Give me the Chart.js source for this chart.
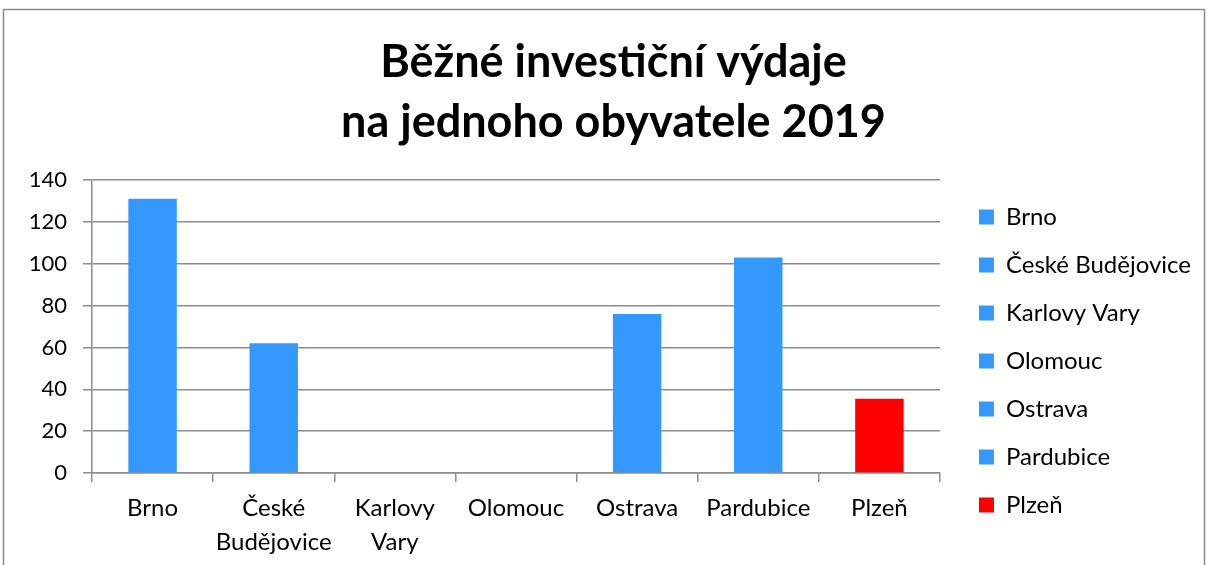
<!DOCTYPE html>
<html>
<head>
<meta charset="utf-8">
<script src="https://cdn.jsdelivr.net/npm/chart.js@4"></script>
<style>
  html, body { margin: 0; padding: 0; background: #fff; }
  #wrap { width: 1208px; height: 565px; }
</style>
</head>
<body>
<div id="wrap"><canvas id="graf"></canvas></div>
<script>
const mesta = ["Brno", ["České", "Budějovice"], ["Karlovy", "Vary"], "Olomouc", "Ostrava", "Pardubice", "Plzeň"];
const nazvyLegenda = ["Brno", "České Budějovice", "Karlovy Vary", "Olomouc", "Ostrava", "Pardubice", "Plzeň"];
const vydaje = [131, 62, 0, 0, 76, 103, 35.5];
const barvy = ["#3399ff", "#3399ff", "#3399ff", "#3399ff", "#3399ff", "#3399ff", "#ff0000"];
const nadpis = ["Běžné investiční výdaje", "na jednoho obyvatele 2019"];

const pismo = "Lato, 'Open Sans', sans-serif";
Chart.defaults.font.family = pismo;
Chart.defaults.color = "#000";

// sedy ramecek kolem celeho grafu + posun nadpisu trochu doprava
const ramecek = {
    id: "ramecek",
    afterLayout(chart) {
        if (chart.titleBlock) {
            chart.titleBlock.left += 13;
            chart.titleBlock.right += 13;
        }
    },
    beforeDraw(chart) {
        const c = chart.ctx;
        c.save();
        c.fillStyle = "#fff";
        c.fillRect(0, 0, chart.width, chart.height);
        c.strokeStyle = "#8a8a8a";
        c.lineWidth = 1.5;
        c.strokeRect(3.5, 9.5, chart.width - 7, chart.height + 10);
        c.restore();
    }
};

const ctx = document.getElementById("graf");

new Chart(ctx, {
    type: "bar",
    data: {
        labels: mesta,
        datasets: [{
            data: vydaje,
            backgroundColor: barvy,
            barPercentage: 0.8,
            categoryPercentage: 0.5
        }]
    },
    options: {
        responsive: true,
        maintainAspectRatio: false,
        animation: false,
        layout: { padding: { left: 0, right: 7, top: 0, bottom: 6 } },
        plugins: {
            legend: {
                position: "right",
                maxWidth: 300,
                title: { display: true, text: "", font: { size: 10, lineHeight: 1 }, padding: { top: 153, bottom: 0 } },
                labels: {
                    boxWidth: 15,
                    boxHeight: 15,
                    padding: 24,
                    font: { size: 24 },
                    generateLabels: (chart) => nazvyLegenda.map((n, i) => ({
                        text: n,
                        fillStyle: barvy[i],
                        strokeStyle: barvy[i],
                        lineWidth: 0,
                        hidden: false,
                        index: i
                    }))
                }
            },
            title: {
                display: true,
                text: nadpis,
                color: "#000",
                font: { size: 45, weight: "bold", lineHeight: 60 / 45 },
                padding: { top: 32, bottom: 28 }
            },
            tooltip: { enabled: false }
        },
        scales: {
            y: {
                min: 0,
                max: 140,
                ticks: { stepSize: 20, font: { size: 22 }, padding: 16 },
                grid: { color: "#8c8c8c", lineWidth: 1.5, tickLength: 9, tickColor: "#8c8c8c" },
                border: { color: "#8c8c8c", width: 1.5 },
                afterFit: (s) => { s.width = 92; }
            },
            mezera: {
                position: "right",
                ticks: { display: false },
                grid: { display: false },
                border: { display: false },
                afterFit: (s) => { s.width = 15; }
            },
            x: {
                ticks: { font: { size: 24, lineHeight: 34 / 24 }, padding: 9, maxRotation: 0, autoSkip: false },
                grid: { drawOnChartArea: false, color: "#8c8c8c", lineWidth: 1.5, tickLength: 9, offset: true },
                border: { color: "#8c8c8c", width: 1.5 },
                afterFit: (s) => { s.height = 86; }
            }
        }
    },
    plugins: [ramecek]
});
</script>
</body>
</html>
